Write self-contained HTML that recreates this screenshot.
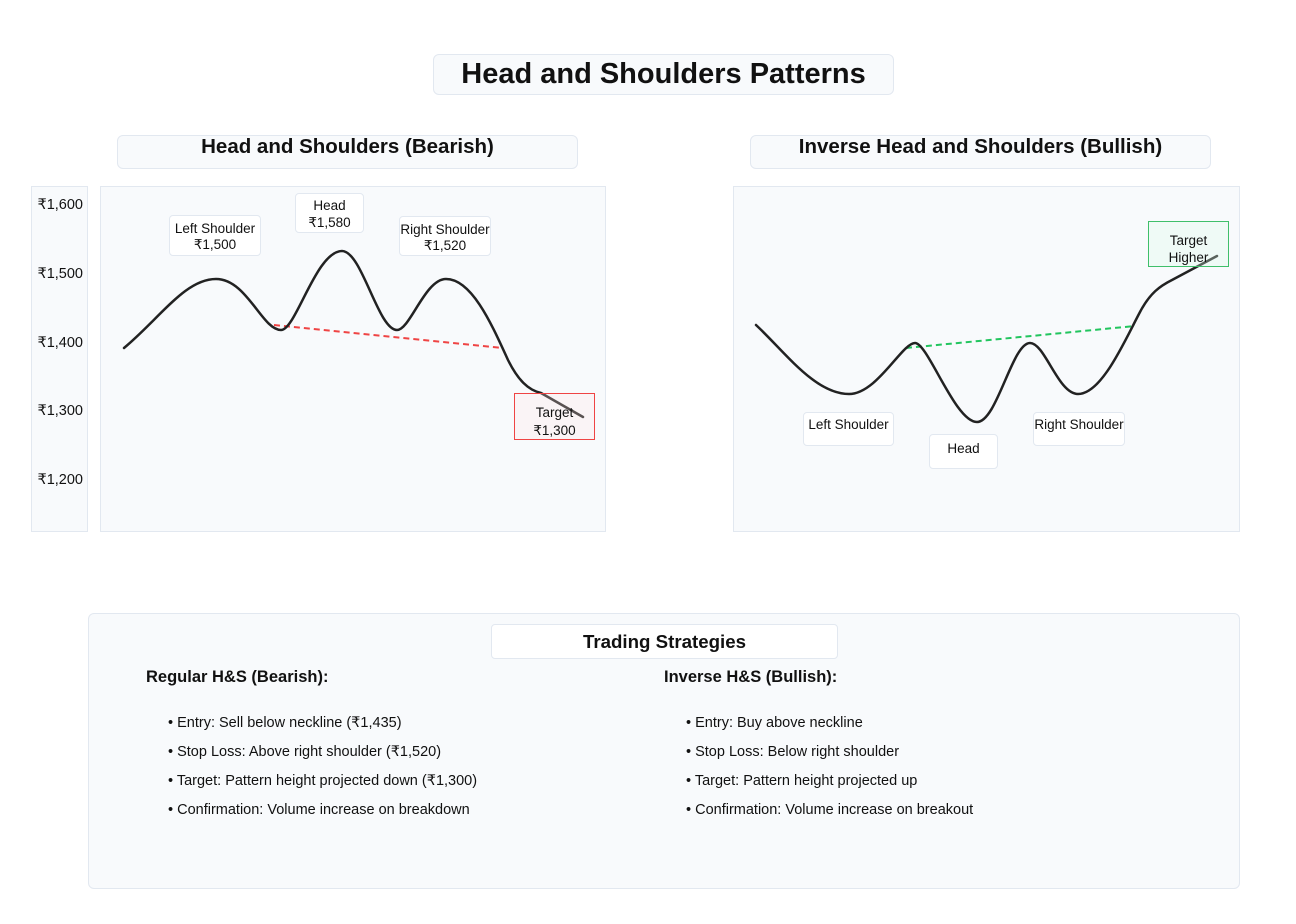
<!DOCTYPE html>
<html>
<head>
<meta charset="utf-8">
<style>
  html,body{margin:0;padding:0;background:#fff;}
  body{width:1296px;height:924px;position:relative;overflow:hidden;font-family:"Liberation Sans","DejaVu Sans",sans-serif;color:#111;}
  .abs{position:absolute;box-sizing:border-box;}
  .panel{background:#f8fafc;border:1px solid #e2e8f0;}
  .ttl{background:#f8fafc;border:1px solid #e2e8f0;border-radius:6px;text-align:center;font-weight:bold;white-space:nowrap;}
  .tick{position:absolute;left:31px;width:52px;text-align:right;font-size:14.5px;line-height:20px;color:#111;white-space:nowrap;}
  .lbl{background:#fff;border:1px solid #e2e8f0;border-radius:4px;text-align:center;font-size:13.5px;color:#111;white-space:nowrap;}
  .lbl span{position:absolute;left:0;right:0;text-align:center;line-height:16px;}
  .bul{position:absolute;font-size:14.5px;line-height:20px;white-space:nowrap;color:#111;}
  .h3{position:absolute;font-size:16.5px;font-weight:bold;line-height:20px;white-space:nowrap;color:#111;}
</style>
</head>
<body>

<!-- Main title -->
<div class="abs ttl" style="left:433px;top:54px;width:461px;height:41px;font-size:29px;line-height:39px;">Head and Shoulders Patterns</div>

<!-- Subtitles -->
<div class="abs ttl" style="left:117px;top:135px;width:461px;height:34px;font-size:20.5px;line-height:22px;">Head and Shoulders (Bearish)</div>
<div class="abs ttl" style="left:750px;top:135px;width:461px;height:34px;font-size:20.5px;line-height:22px;">Inverse Head and Shoulders (Bullish)</div>

<!-- Y axis panel -->
<div class="abs panel" style="left:31px;top:186px;width:57px;height:346px;"></div>
<div class="tick" style="top:195px;">₹1,600</div>
<div class="tick" style="top:264px;">₹1,500</div>
<div class="tick" style="top:332.5px;">₹1,400</div>
<div class="tick" style="top:401px;">₹1,300</div>
<div class="tick" style="top:470px;">₹1,200</div>

<!-- Chart panels -->
<div class="abs panel" style="left:100px;top:186px;width:506px;height:346px;"></div>
<div class="abs panel" style="left:733px;top:186px;width:507px;height:346px;"></div>

<!-- Lines -->
<svg class="abs" style="left:0;top:0;" width="1296" height="924" viewBox="0 0 1296 924">
  <!-- bearish neckline -->
  <line x1="274" y1="325" x2="503" y2="348" stroke="#ef4444" stroke-width="2" stroke-dasharray="6,4"/>
  <!-- bearish curve -->
  <path d="M124,348 C160,318 185,279 216,279 C247,279 262,330 281,330 C296,330 316,251 342,251 C362,251 378,330 397,330 C410,330 425,279 446,279 C472,279 492,325 508,360 C518,380 528,390 541,393 L583,417"
        fill="none" stroke="#222" stroke-width="2.5" stroke-linecap="round" stroke-linejoin="round"/>
  <!-- bullish neckline -->
  <line x1="906" y1="348" x2="1135" y2="326" stroke="#22c55e" stroke-width="2" stroke-dasharray="6,4"/>
  <!-- bullish curve -->
  <path d="M756,325 C785,352 815,394 849,394 C877,394 902,343 915,343 C928,343 955,422 977,422 C997,422 1012,343 1030,343 C1045,343 1058,394 1078,394 C1102,394 1125,340 1140,312 C1150,293 1160,286 1172,280 L1217,256"
        fill="none" stroke="#222" stroke-width="2.5" stroke-linecap="round" stroke-linejoin="round"/>
</svg>

<!-- Bearish labels -->
<div class="abs lbl" style="left:169px;top:215px;width:92px;height:41px;">
  <span style="top:5px;">Left Shoulder</span><span style="top:21px;">₹1,500</span>
</div>
<div class="abs lbl" style="left:295px;top:193px;width:69px;height:40px;">
  <span style="top:3.5px;">Head</span><span style="top:20.5px;">₹1,580</span>
</div>
<div class="abs lbl" style="left:399px;top:216px;width:92px;height:40px;">
  <span style="top:4.5px;">Right Shoulder</span><span style="top:20.5px;">₹1,520</span>
</div>
<div class="abs" style="left:514px;top:393px;width:81px;height:47px;border:1px solid #ef4444;background:rgba(254,226,226,0.25);font-size:13.5px;">
  <span style="position:absolute;left:0;right:0;text-align:center;top:10px;line-height:18px;">Target</span>
  <span style="position:absolute;left:0;right:0;text-align:center;top:28px;line-height:18px;">₹1,300</span>
</div>

<!-- Bullish labels -->
<div class="abs lbl" style="left:803px;top:412px;width:91px;height:34px;">
  <span style="top:3.5px;">Left Shoulder</span>
</div>
<div class="abs lbl" style="left:929px;top:434px;width:69px;height:35px;">
  <span style="top:5.5px;">Head</span>
</div>
<div class="abs lbl" style="left:1033px;top:412px;width:92px;height:34px;">
  <span style="top:3.5px;">Right Shoulder</span>
</div>
<div class="abs" style="left:1148px;top:221px;width:81px;height:46px;border:1px solid #3fbf6a;background:rgba(220,252,231,0.3);font-size:13.5px;">
  <span style="position:absolute;left:0;right:0;text-align:center;top:10px;line-height:17px;">Target</span>
  <span style="position:absolute;left:0;right:0;text-align:center;top:27px;line-height:17px;">Higher</span>
</div>

<!-- Strategies -->
<div class="abs" style="left:88px;top:613px;width:1152px;height:276px;background:#f8fafc;border:1px solid #e2e8f0;border-radius:6px;"></div>
<div class="abs" style="left:491px;top:624px;width:347px;height:35px;background:#fff;border:1px solid #e2e8f0;border-radius:4px;text-align:center;font-weight:bold;font-size:18.7px;line-height:33px;white-space:nowrap;">Trading Strategies</div>

<div class="h3" style="left:146px;top:667px;">Regular H&amp;S (Bearish):</div>
<div class="h3" style="left:664px;top:667px;">Inverse H&amp;S (Bullish):</div>

<div class="bul" style="left:168px;top:713px;">• Entry: Sell below neckline (₹1,435)</div>
<div class="bul" style="left:168px;top:742px;">• Stop Loss: Above right shoulder (₹1,520)</div>
<div class="bul" style="left:168px;top:771px;">• Target: Pattern height projected down (₹1,300)</div>
<div class="bul" style="left:168px;top:800px;">• Confirmation: Volume increase on breakdown</div>

<div class="bul" style="left:686px;top:713px;">• Entry: Buy above neckline</div>
<div class="bul" style="left:686px;top:742px;">• Stop Loss: Below right shoulder</div>
<div class="bul" style="left:686px;top:771px;">• Target: Pattern height projected up</div>
<div class="bul" style="left:686px;top:800px;">• Confirmation: Volume increase on breakout</div>

</body>
</html>
